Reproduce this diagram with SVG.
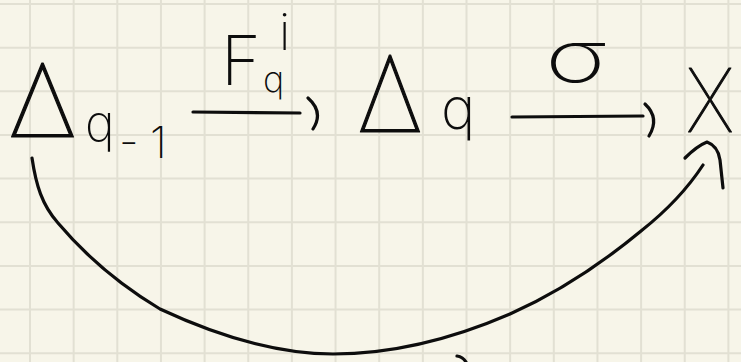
<svg xmlns="http://www.w3.org/2000/svg" width="741" height="362" viewBox="0 0 741 362">
<style>
.bg{fill:#f7f5e9}
.grid{stroke:#e2e0d3;stroke-width:2;fill:none}
.ink{stroke:#0d0d0d;stroke-width:3.2;fill:none;stroke-linecap:round;stroke-linejoin:round}
.t{font-family:"Inter","Roboto","Open Sans","DejaVu Sans",sans-serif;font-weight:200;fill:#0d0d0d}
.big{font-weight:100;stroke:#0d0d0d;stroke-width:1.2;stroke-linejoin:round}
</style>
<rect class="bg" x="0" y="0" width="741" height="362"/>
<path class="grid" d="M30,0V362M73.65,0V362M117.3,0V362M160.95,0V362M204.6,0V362M248.25,0V362M291.9,0V362M335.55,0V362M379.2,0V362M422.85,0V362M466.5,0V362M510.15,0V362M553.8,0V362M597.45,0V362M641.1,0V362M684.75,0V362M728.4,0V362M0,4H741M0,47.65H741M0,91.3H741M0,134.95H741M0,178.6H741M0,222.25H741M0,265.9H741M0,309.55H741M0,353.2H741"/>
<g id="node-delta-q-1">
<text class="t big" x="8" y="137" font-size="102" textLength="69" lengthAdjust="spacingAndGlyphs">Δ</text>
<text class="t" x="85" y="141" font-size="50">q</text>
<text class="t" x="119" y="157" font-size="44">-</text>
<text class="t" x="150" y="158" font-size="44">1</text>
</g>
<g id="node-delta-q">
<text class="t big" x="357" y="132" font-size="106" textLength="66" lengthAdjust="spacingAndGlyphs">Δ</text>
<text class="t" x="441" y="129" font-size="58">q</text>
</g>
<g id="node-X">
<text class="t big" x="686" y="132" font-size="88" textLength="48" lengthAdjust="spacingAndGlyphs">X</text>
</g>
<g id="connectors">
<g id="edge-F">
<path class="ink" d="M193,112 L300,113 M308,98 Q324,112 313,129"/>
<text class="t" x="221" y="85" font-size="68">F</text>
<text class="t" x="263" y="92" font-size="36">q</text>
<text class="t" x="279" y="50" font-size="50">i</text>
</g>
<g id="edge-sigma">
<path class="ink" d="M512,117 L643,116 M645,104 Q660,118 649,136"/>
<text class="t" x="545" y="82" font-size="72" textLength="62" lengthAdjust="spacingAndGlyphs">σ</text>
</g>
<g id="edge-curve">
<path class="ink" d="M32,158 C36,185 42,205 58,223 C85,255 120,285 160,309 C220,337 280,354 333,354 C390,354 450,340 510,314 C555,294 600,265 641,231 C665,212 688,188 703,165"/>
<path class="ink" d="M685,158 Q697,146 707,142 Q718,146 720,160 L723,188"/>
<path class="ink" d="M457,356 Q463,357 466,362"/>
</g>
</g>
</svg>
